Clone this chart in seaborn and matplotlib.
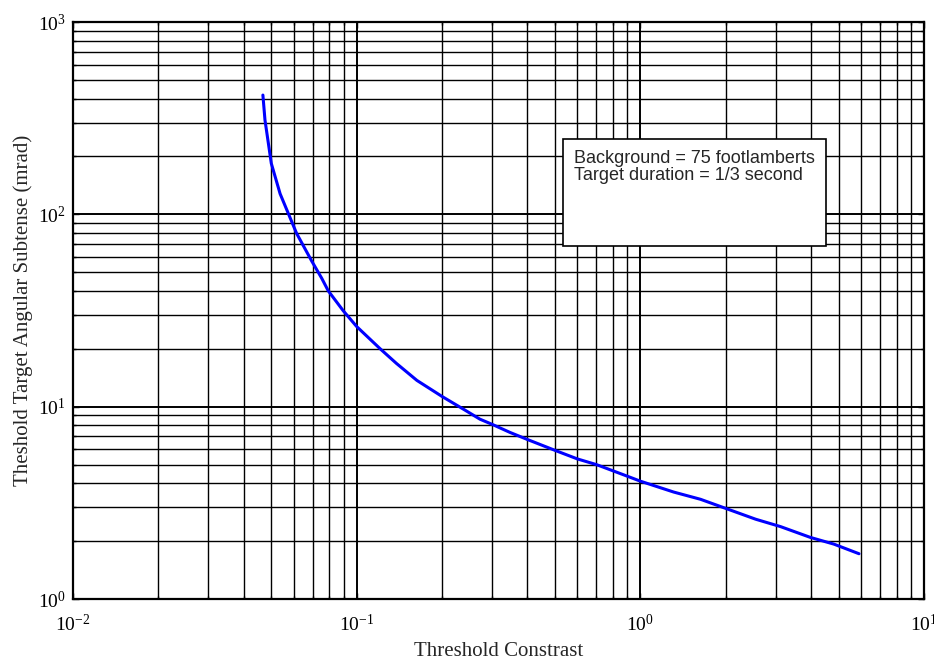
"""
Threshold target angular subtense vs threshold contrast (log-log).
"""

import matplotlib
matplotlib.use("Agg")
import matplotlib.pyplot as plt
import matplotlib.patches as mpatches
import pandas as pd
import seaborn as sns
from matplotlib.ticker import LogLocator, LogFormatterMathtext, NullFormatter

# values
contrast = [0.0467, 0.0475, 0.050, 0.0537, 0.0614, 0.0694, 0.0753, 0.0794, 0.0897,
            0.100, 0.121, 0.138, 0.163, 0.200, 0.238, 0.272, 0.300, 0.347, 0.400,
            0.500, 0.600, 0.700, 0.900, 1.00, 1.31, 1.63, 2.55, 3.12, 3.98, 4.81, 5.90]
subtense = [417, 309, 184, 128, 79.6, 57.2, 46.5, 40.0, 31.5,
            26.1, 20.0, 16.8, 13.7, 11.3, 9.7, 8.61, 8.10, 7.35, 6.75,
            5.93, 5.35, 5.00, 4.35, 4.10, 3.60, 3.30, 2.60, 2.38, 2.09, 1.93, 1.72]

box_lines = ["Background = 75 footlamberts", "Target duration = 1/3 second"]
x_label = "Threshold Constrast"
y_label = "Theshold Target Angular Subtense (mrad)"

sns.set_style("ticks")
plt.rcParams['font.family'] = ['Liberation Serif', 'DejaVu Serif']
plt.rcParams['mathtext.fontset'] = 'custom'
plt.rcParams['mathtext.rm'] = 'Liberation Serif'
plt.rcParams['mathtext.it'] = 'Liberation Serif:italic'

df = pd.DataFrame({"contrast": contrast, "subtense": subtense})

fig, ax = plt.subplots(figsize=(9.34, 6.65), dpi=100)
fig.subplots_adjust(left=0.0782, right=0.9893, bottom=0.0992, top=0.9669)

sns.lineplot(data=df, x="contrast", y="subtense", ax=ax, color=(0, 0, 1),
             linewidth=2.2, sort=False, estimator=None, zorder=3)

ax.set_xscale('log')
ax.set_yscale('log')
ax.set_xlim(1e-2, 1e1)
ax.set_ylim(1e0, 1e3)

for axis in (ax.xaxis, ax.yaxis):
    axis.set_major_locator(LogLocator(base=10, numticks=10))
    axis.set_minor_locator(LogLocator(base=10, subs=range(2, 10), numticks=20))
    axis.set_major_formatter(LogFormatterMathtext())
    axis.set_minor_formatter(NullFormatter())

ax.grid(True, which='major', color='black', linewidth=1.4)
ax.grid(True, which='minor', color='black', linewidth=1.0)
ax.set_axisbelow(True)

ax.tick_params(which='both', direction='in', top=True, right=True,
               colors='black', labelsize=14)
ax.tick_params(which='major', length=4, width=1)
ax.tick_params(which='minor', length=2, width=1)
ax.tick_params(axis='x', which='major', pad=11)
ax.tick_params(axis='y', which='major', pad=5)
for spine in ax.spines.values():
    spine.set_linewidth(1.6)
    spine.set_color('black')
    spine.set_zorder(4)

ax.set_xlabel(x_label, fontsize=15, labelpad=5)
ax.set_ylabel(y_label, fontsize=15, labelpad=4)

# legend-style text box
box = mpatches.Rectangle((0.5758, 0.6118), 0.3095, 0.1854, transform=ax.transAxes,
                         facecolor='white', edgecolor='black', linewidth=1.2, zorder=5)
ax.add_patch(box)
for text, ypos in zip(box_lines, (0.7557, 0.7262)):
    ax.text(0.5887, ypos, text, transform=ax.transAxes, fontsize=13,
            family=['Liberation Sans', 'DejaVu Sans'], va='baseline', ha='left', zorder=6)

plt.savefig("out.png", dpi=100)
plt.close()
